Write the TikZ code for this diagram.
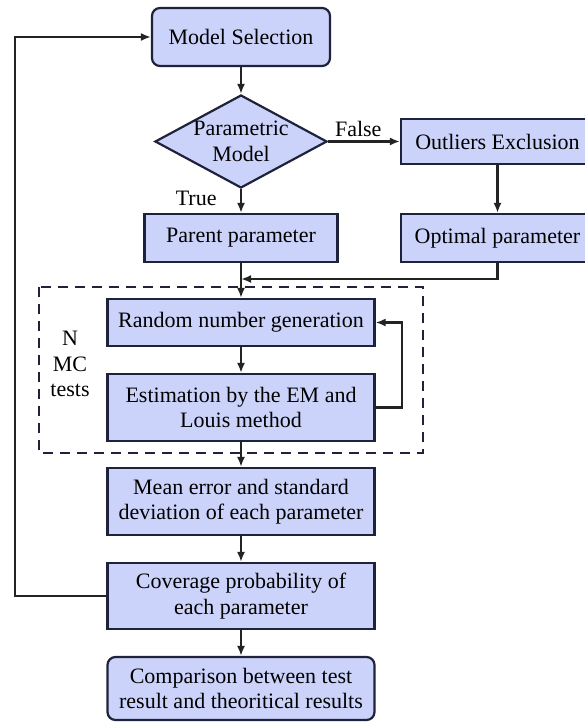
\documentclass[tikz,border=0pt]{standalone}
\usepackage{fontspec}
\setmainfont{Liberation Serif}
\newfontfamily\flowfont{Liberation Serif}
\usetikzlibrary{shapes.geometric}
\usetikzlibrary{arrows.meta}

\definecolor{boxfill}{RGB}{204,211,250}
\definecolor{boxline}{RGB}{30,34,58}
\definecolor{flowline}{RGB}{35,35,35}

\begin{document}
\begin{tikzpicture}[x=1pt,y=-1pt,>={Latex[length=10pt,width=8pt]},
        font=\flowfont\fontsize{22}{25.5}\selectfont,
        box/.style 2 args={draw=boxline,fill=boxfill,line width=2.2pt,align=center,
            inner sep=0pt,minimum width=#1pt,minimum height=#2pt},
        rbox/.style 2 args={box={#1}{#2},rounded corners=8pt},
        decide/.style={diamond,draw=boxline,fill=boxfill,line width=2.2pt,
            inner sep=0pt,minimum width=172pt,minimum height=93pt},
        flow/.style={draw=flowline,line width=2.2pt,->}]
    \useasboundingbox (0,0) rectangle (584,722);
    % nodes
    \node[rbox={178}{58}] (msel) at (241,37) {Model Selection};
    \node[decide,label={[align=center]center:Parametric\\Model}] (para) at (241,141.5) {};
    \node[box={193}{45}] (outl) at (497.5,141.5) {Outliers Exclusion};
    \node[box={193}{48}] (parent) at (241,238) {Parent parameter};
    \node[box={193}{48}] (optim) at (497.5,238) {Optimal parameter};
    \draw[boxline,line width=2.2pt,dash pattern=on 10pt off 7pt] (39,287) rectangle (423,453);
    \node[box={267}{47}] (rng) at (241,322.5) {Random number generation};
    \node[box={267}{67}] (est) at (241,407.5) {Estimation by the EM and\\Louis method};
    \node[align=center] (ntest) at (70,364) {N\\MC\\tests};
    \node[box={267}{67}] (mean) at (241,501.5) {Mean error and standard\\deviation of each parameter};
    \node[box={267}{66}] (cover) at (241,596) {Coverage probability of\\each parameter};
    \node[rbox={267}{63}] (comp) at (241,688.5) {Comparison between test\\result and theoritical results};
    % connectors
    \draw[flow] (msel) -- (para);
    \draw[flow] (para) -- node[above,pos=0.42] {False} (outl);
    \draw[flow] (para) -- node[left=20pt,pos=0.4] {True} (parent);
    \draw[flow] (outl) -- (optim);
    \coordinate (merge) at (241,279);
    \draw[flow] (optim.south) |- (merge);
    \draw[flow] (parent) -- (rng);
    \draw[flow] (rng) -- (est);
    \draw[flow] (est.east) -- ++(26,0) |- (rng.east);
    \draw[flow] (est) -- (mean);
    \draw[flow] (mean) -- (cover);
    \draw[flow] (cover) -- (comp);
    \coordinate (loop) at (15,596);
    \draw[flow] (cover.west) -- (loop) |- (msel.west);
\end{tikzpicture}
\end{document}
